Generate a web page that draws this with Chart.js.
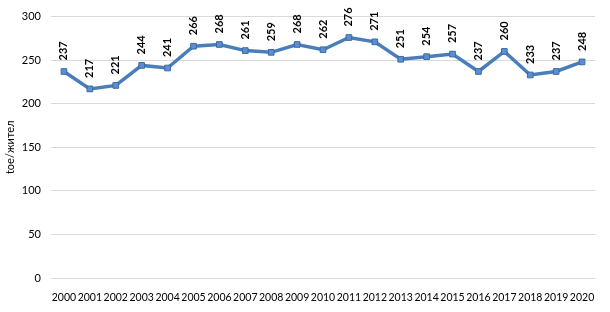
<!DOCTYPE html>
<html>
<head>
<meta charset="utf-8">
<script src="https://cdn.jsdelivr.net/npm/chart.js@4/dist/chart.umd.min.js"></script>
<style>
  html, body { margin: 0; padding: 0; background: #fff; }
  #wrap { width: 610px; height: 312px; }
</style>
</head>
<body>
<div id="wrap"><canvas id="chart" width="610" height="312"></canvas></div>
<script>
// data
const years = ['2000', '2001', '2002', '2003', '2004', '2005', '2006', '2007', '2008', '2009', '2010',
  '2011', '2012', '2013', '2014', '2015', '2016', '2017', '2018', '2019', '2020'];
const toePerCapita = [237, 217, 221, 244, 241, 266, 268, 261, 259, 268, 262,
  276, 271, 251, 254, 257, 237, 260, 233, 237, 248];
const yTicks = [0, 50, 100, 150, 200, 250, 300];
const yTitle = 'toe/жител';

const FONT = 'Lato, "Open Sans", sans-serif';

// vertical value labels above each point
const pointLabels = {
  id: 'pointLabels',
  afterDatasetsDraw(chart) {
    const ctx = chart.ctx;
    const meta = chart.getDatasetMeta(0);
    ctx.save();
    ctx.font = 'bold 11px ' + FONT;
    ctx.fillStyle = '#000';
    ctx.textAlign = 'left';
    ctx.textBaseline = 'middle';
    meta.data.forEach((pt, i) => {
      ctx.save();
      ctx.translate(pt.x, pt.y - 11);
      ctx.rotate(-Math.PI / 2);
      ctx.fillText(String(toePerCapita[i]), 0, 0);
      ctx.restore();
    });
    ctx.restore();
  }
};

new Chart(document.getElementById('chart'), {
  type: 'line',
  data: {
    labels: years,
    datasets: [{
      data: toePerCapita,
      borderColor: '#4a7ebb',
      borderWidth: 3.5,
      backgroundColor: '#4a7ebb',
      pointStyle: 'rect',
      pointRadius: 4,
      pointBorderColor: '#3a6aa3',
      pointBorderWidth: 1,
      pointBackgroundColor: '#5b8fcf',
      tension: 0,
      fill: false
    }]
  },
  options: {
    responsive: false,
    animation: false,
    layout: { padding: { top: 9, right: 15, bottom: 0, left: 4 } },
    plugins: {
      legend: { display: false },
      tooltip: { enabled: false }
    },
    scales: {
      x: {
        offset: true,
        grid: { display: false, drawTicks: false },
        border: { display: false },
        ticks: {
          color: '#000',
          font: { family: FONT, size: 10.5 },
          autoSkip: false,
          maxRotation: 0,
          minRotation: 0,
          padding: 13
        },
        afterFit(scale) { scale.height = 34; }
      },
      y: {
        min: 0,
        max: 300,
        afterBuildTicks(scale) { scale.ticks = yTicks.map(v => ({ value: v })); },
        grid: { color: '#d9d9d9', drawTicks: false, lineWidth: 1 },
        border: { display: false },
        ticks: {
          color: '#000',
          font: { family: FONT, size: 11 },
          padding: 10
        },
        title: {
          display: true,
          text: yTitle,
          color: '#000',
          font: { family: FONT, size: 11 },
          padding: 0
        },
        afterFit(scale) { scale.width = 47; }
      }
    }
  },
  plugins: [pointLabels]
});
</script>
</body>
</html>
